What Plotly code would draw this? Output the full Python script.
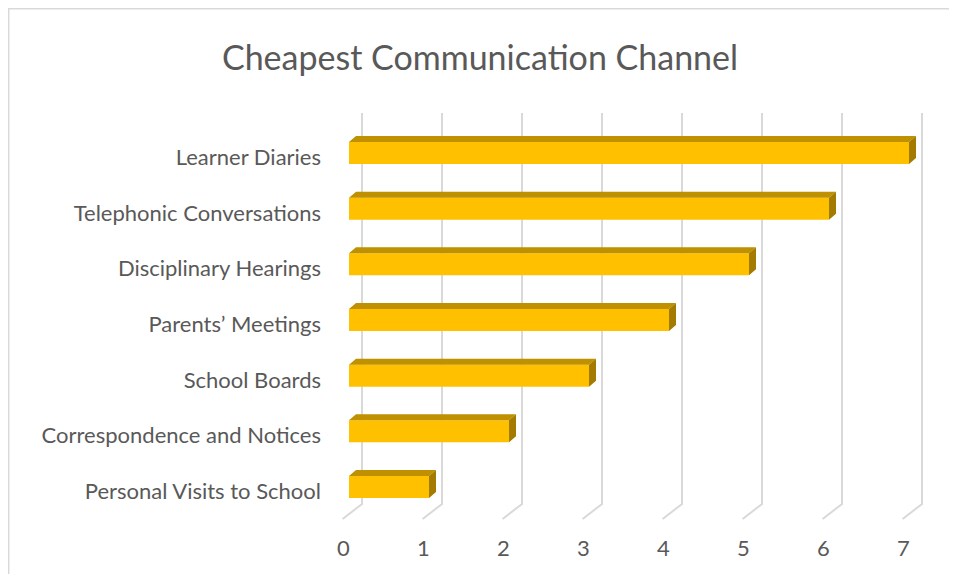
import plotly.graph_objects as go

# chart data
channels = [
    "Personal Visits to School",
    "Correspondence and Notices",
    "School Boards",
    "Parents’ Meetings",
    "Disciplinary Hearings",
    "Telephonic Conversations",
    "Learner Diaries",
]
counts = [1, 2, 3, 4, 5, 6, 7]
x_ticks = [0, 1, 2, 3, 4, 5, 6, 7]

TEXT = "#595959"
GRID = "#D9D9D9"
FRONT = "#FFC000"
TOP = "#BF9000"
SIDE = "#A37B00"
FONT = "Lato, 'Open Sans', sans-serif"

# fake 3d look (in axis units)
bar_w = 0.395
dx, dy = 0.0875, 0.108
wall_dx, floor_dx = 0.1625, -0.08
wall_top, wall_bot, floor_y = 6.718, -0.305, -0.574

pos = list(range(len(channels)))

fig = go.Figure()

fig.add_trace(go.Bar(
    y=pos, x=counts, orientation="h", width=bar_w,
    marker=dict(color=FRONT, line=dict(width=0)),
    hoverinfo="skip", showlegend=False,
))

# top and side faces of each bar
top_x, top_y, side_x, side_y = [], [], [], []
for k, v in zip(pos, counts):
    yt, yb = k + bar_w / 2, k - bar_w / 2
    top_x += [0, v, v + dx, dx, None]
    top_y += [yt, yt, yt + dy, yt + dy, None]
    side_x += [v, v, v + dx, v + dx, None]
    side_y += [yb, yt, yt + dy, yb + dy, None]

fig.add_trace(go.Scatter(x=top_x, y=top_y, mode="lines", fill="toself",
                         fillcolor=TOP, line=dict(width=0, color=TOP),
                         hoverinfo="skip", showlegend=False))
fig.add_trace(go.Scatter(x=side_x, y=side_y, mode="lines", fill="toself",
                         fillcolor=SIDE, line=dict(width=0, color=SIDE),
                         hoverinfo="skip", showlegend=False))

# back wall gridlines bending onto the floor
shapes = []
for t in x_ticks:
    shapes.append(dict(
        type="path", xref="x", yref="y", layer="below",
        path=f"M {t + wall_dx},{wall_top} L {t + wall_dx},{wall_bot} L {t + floor_dx},{floor_y}",
        line=dict(color=GRID, width=2),
    ))
# chart border: only left and top edges are visible
shapes.append(dict(type="path", xref="paper", yref="paper",
                   path="M -0.5355,-0.2 L -0.5355,1.2075 L 1.1,1.2075",
                   line=dict(color=GRID, width=1.5)))

annotations = [
    dict(x=t - 0.075, y=-0.018, xref="x", yref="paper", text=str(t),
         showarrow=False, font=dict(size=22, color=TEXT, family=FONT),
         xanchor="center", yanchor="middle")
    for t in x_ticks
]

fig.update_layout(
    width=941, height=566,
    margin=dict(l=322, r=19, t=92, b=34),
    paper_bgcolor="white", plot_bgcolor="white",
    title=dict(text="Cheapest Communication Channel", x=472 / 941, xref="container",
               y=1 - 50 / 566, yanchor="middle", xanchor="center",
               font=dict(size=34, color=TEXT, family=FONT)),
    xaxis=dict(range=[-0.2375, 7.2625], showgrid=False, zeroline=False,
               showticklabels=False, showline=False, fixedrange=True),
    yaxis=dict(range=[-0.952, 6.952], showgrid=False, zeroline=False,
               showline=False, tickmode="array",
               tickvals=[k - 0.08 for k in pos], ticktext=channels,
               ticklabelstandoff=8, tickfont=dict(size=22, color=TEXT, family=FONT),
               fixedrange=True),
    shapes=shapes,
    annotations=annotations,
    showlegend=False,
)

fig.write_html("out.html")
